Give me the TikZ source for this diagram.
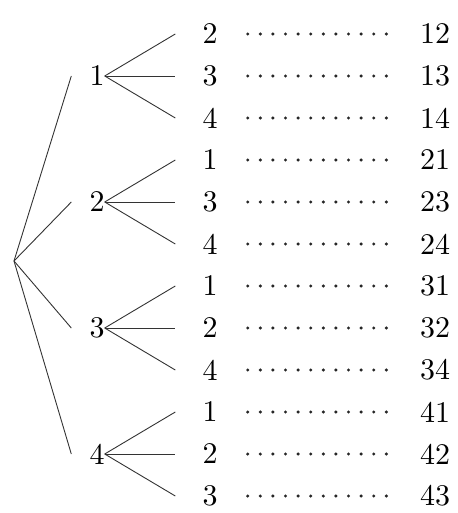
\documentclass[tikz,border=0pt]{standalone}
\usepackage{fontspec}
\newfontfamily\digitfont{lmroman10-regular.otf}
\usetikzlibrary{positioning}
\tikzset{
  branch/.style={draw=black!80,line width=0.9pt},
  digit/.style={font=\digitfont\fontsize{30}{30}\selectfont,inner sep=0pt},
  leader/.style={draw=black!85,line width=3.4pt,line cap=round,dash pattern=on 0pt off 12.6pt},
}

\begin{document}
\begin{tikzpicture}[x=1pt,y=-1pt]
  \useasboundingbox (0,0) rectangle (457,513);
  \coordinate (root) at (14,261);
  \foreach \a/\kids [count=\i from 0] in {1/{2,3,4},2/{1,3,4},3/{1,2,4},4/{1,2,3}}{
    \node[digit] (m\a) at (97,{34+42*(3*\i+1)}) {\a};
    \draw[branch] (root) -- ([xshift=-18pt]m\a.west);
    \foreach \b [count=\j from 0] in \kids {
      \node[digit] (l\a\b) at (210,{34+42*(3*\i+\j)}) {\b};
      \node[digit] (p\a\b) at (435,{34+42*(3*\i+\j)}) {\a\b};
      \draw[branch] (m\a.east) -- ([xshift=-27pt]l\a\b.west);
      \draw[leader] ([xshift=30pt]l\a\b.east) -- ([xshift=-32pt]p\a\b.west);
    }
  }
\end{tikzpicture}
\end{document}
